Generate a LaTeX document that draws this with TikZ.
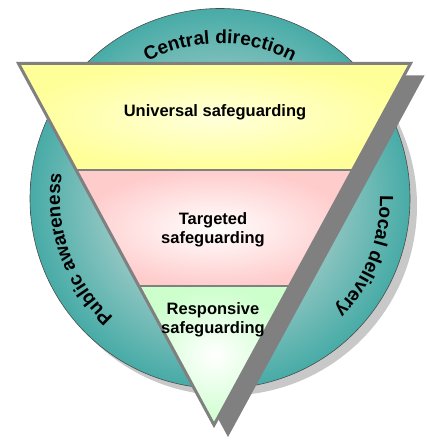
\documentclass[tikz,border=0pt]{standalone}
\usepackage{fontspec}
\setmainfont{Liberation Sans}
\usetikzlibrary{calc,decorations.text}

\definecolor{tealdark}{RGB}{0,145,140}
\definecolor{teallight}{RGB}{150,200,196}
\definecolor{bandyellow}{RGB}{255,255,153}
\definecolor{bandpink}{RGB}{255,204,204}
\definecolor{bandgreen}{RGB}{204,255,204}
\definecolor{edgegray}{RGB}{128,128,128}
\definecolor{shadowgray}{RGB}{200,200,200}

\pgfdeclareradialshading{tealglow}{\pgfpoint{0bp}{0bp}}{color(0bp)=(teallight); color(14bp)=(teallight); color(35bp)=(tealdark); color(50bp)=(tealdark)}

\newcommand{\bandfont}{\fontsize{16.5}{19}\selectfont\bfseries}
\newcommand{\ringfont}{\fontsize{19}{21}\selectfont\bfseries}

\tikzset{
  bandlabel/.style={align=center, font=\bandfont, inner sep=0pt},
  ringtext/.style={decorate, decoration={text along path, text align=center, text={|\ringfont|#1}}},
}

\begin{document}
\begin{tikzpicture}[x=1pt,y=1pt]
	\useasboundingbox (0,0) rectangle (426,444);
	\coordinate (c) at (220,245.5);

	% ring
	\fill[shadowgray] ($(c)+(7,-7)$) circle[radius=190];
	\shade[shading=tealglow, draw=black!70, line width=0.6pt] (c) circle[radius=190];

	\path[ringtext={Central direction}] ($(c)+(125:155)$) arc[start angle=125, end angle=55, radius=155];
	\path[ringtext={Local delivery}] ($(c)+(20:160)$) arc[start angle=20, end angle=-63, radius=160];
	\path[ringtext={Public awareness}] ($(c)+(240:160)$) arc[start angle=240, end angle=159.4, radius=160];

	% triangle
	\coordinate (tl) at (18.5,380.5);
	\coordinate (tr) at (410.5,380.5);
	\coordinate (ap) at (214,19);
	\coordinate (l1) at ($(tl)!0.2946!(ap)$);
	\coordinate (r1) at ($(tr)!0.2946!(ap)$);
	\coordinate (l2) at ($(tl)!0.6155!(ap)$);
	\coordinate (r2) at ($(tr)!0.6155!(ap)$);

	\fill[edgegray] ($(tl)+(14,-12)$) -- ($(tr)+(14,-12)$) -- ($(ap)+(14,-12)$) -- cycle;

	\shade[inner color=bandyellow!35!white, outer color=bandyellow] (tl) -- (tr) -- (r1) -- (l1) -- cycle;
	\shade[inner color=white, outer color=bandpink] (l1) -- (r1) -- (r2) -- (l2) -- cycle;
	\shade[inner color=white, outer color=bandgreen] (l2) -- (r2) -- (ap) -- cycle;
	\draw[edgegray, line width=1.2pt] (l1) -- (r1) (l2) -- (r2);
	\draw[edgegray, line width=3pt] (tl) -- (tr) -- (ap) -- cycle;

	\node[bandlabel] (universal) at (215,332) {Universal safeguarding};
	\node[bandlabel] (targeted) at (213,214) {Targeted\\safeguarding};
	\node[bandlabel] (responsive) at (213,124) {Responsive\\safeguarding};
\end{tikzpicture}
\end{document}
